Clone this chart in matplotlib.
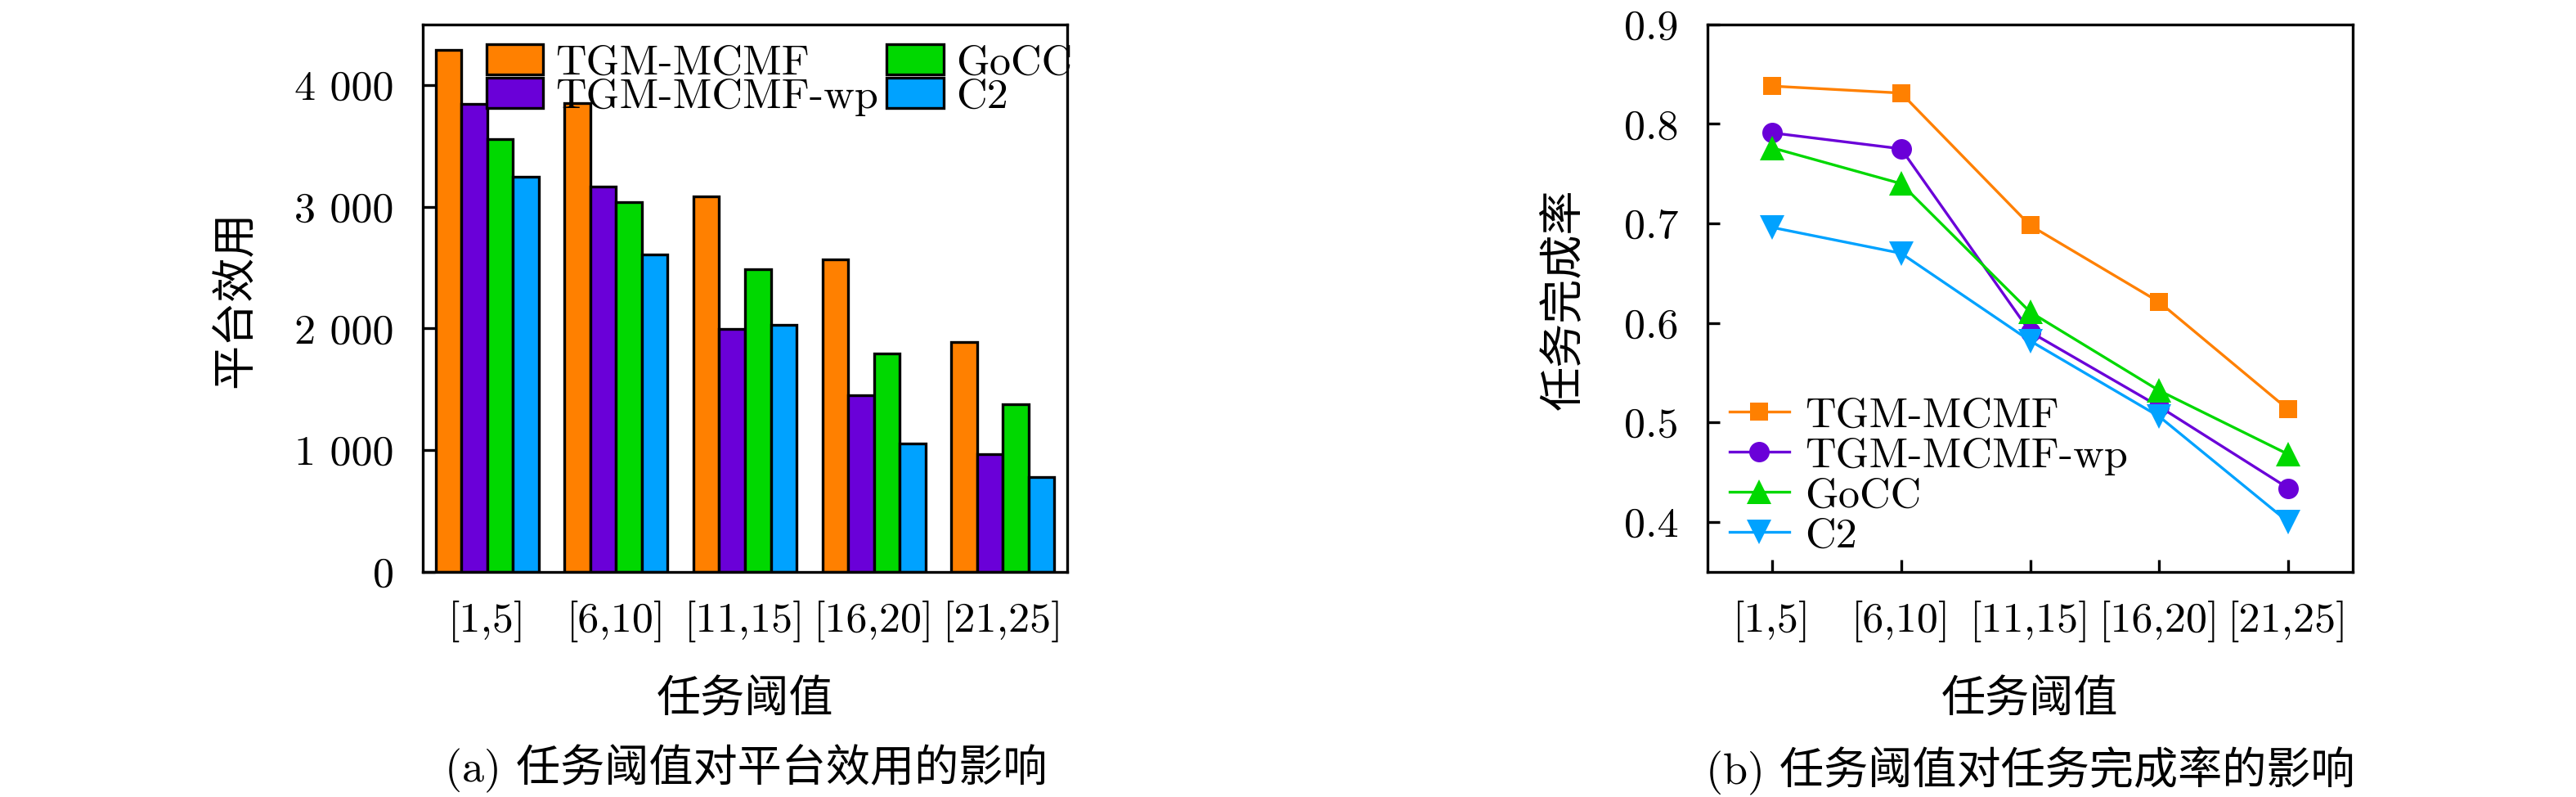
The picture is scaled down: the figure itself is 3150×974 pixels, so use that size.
import numpy as np
import matplotlib
matplotlib.use("Agg")
import matplotlib.pyplot as plt

plt.rc('font', family=['cmr10', 'Noto Sans CJK SC'], size=12.5)
plt.rc('axes', linewidth=0.8, unicode_minus=False)

# data
categories = ["[1,5]", "[6,10]", "[11,15]", "[16,20]", "[21,25]"]
methods = ["TGM-MCMF", "TGM-MCMF-wp", "GoCC", "C2"]
colors = ["#FF8000", "#6A00D8", "#00D800", "#00A2FF"]

utility_tgm = [4290, 3855, 3083, 2571, 1888]
utility_wp = [3843, 3165, 1995, 1453, 968]
utility_gocc = [3557, 3036, 2490, 1795, 1378]
utility_c2 = [3250, 2608, 2031, 1054, 776]

rate_tgm = [0.838, 0.831, 0.698, 0.621, 0.513]
rate_wp = [0.791, 0.775, 0.591, 0.516, 0.434]
rate_gocc = [0.776, 0.740, 0.611, 0.532, 0.468]
rate_c2 = [0.696, 0.670, 0.582, 0.506, 0.400]

utility_ticks = [0, 1000, 2000, 3000, 4000]
utility_tick_labels = ["0", "1 000", "2 000", "3 000", "4 000"]
rate_ticks = [0.4, 0.5, 0.6, 0.7, 0.8, 0.9]


def plot_utility(ax):
    x = np.arange(len(categories)) * 5
    series = [utility_tgm, utility_wp, utility_gocc, utility_c2]
    for k, (vals, name, c) in enumerate(zip(series, methods, colors)):
        ax.bar(x + k - 1.5, vals, width=1.0, color=c, edgecolor='black',
               linewidth=0.8, label=name)
    ax.set_xlim(-2.5, x[-1] + 2.5)
    ax.set_ylim(0, 4500)
    ax.set_xticks(x)
    ax.set_xticklabels(categories)
    ax.set_yticks(utility_ticks)
    ax.set_yticklabels(utility_tick_labels)
    ax.tick_params(axis='y', direction='in', length=3.6, width=0.8, pad=8.5,
                   left=True, right=False)
    ax.tick_params(axis='x', length=0, pad=8.5)
    ax.legend(loc='upper left', bbox_to_anchor=(0.092, 0.972), ncol=2,
              frameon=False, borderpad=0.1, borderaxespad=0,
              handlelength=1.33, handleheight=0.71, handletextpad=0.29,
              columnspacing=0.2, labelspacing=-0.1)


def plot_rate(ax):
    x = np.arange(len(categories))
    series = [rate_tgm, rate_wp, rate_gocc, rate_c2]
    markers = ['s', 'o', '^', 'v']
    sizes = [5.4, 6.0, 7.0, 7.0]
    for vals, name, c, m, ms in zip(series, methods, colors, markers, sizes):
        ax.plot(x, vals, color=c, marker=m, markersize=ms, linewidth=0.8,
                markeredgewidth=0, label=name)
    ax.set_xlim(-0.5, 4.5)
    ax.set_ylim(0.35, 0.9)
    ax.set_xticks(x)
    ax.set_xticklabels(categories)
    ax.set_yticks(rate_ticks)
    ax.set_yticklabels(["%.1f" % t for t in rate_ticks])
    ax.tick_params(axis='both', direction='in', length=3.5, width=0.8, pad=8.5,
                   top=False, right=False)
    ax.legend(loc='lower left', bbox_to_anchor=(0.034, 0.03), frameon=False,
              borderpad=0, borderaxespad=0, handlelength=1.4,
              handletextpad=0.38, labelspacing=0.05)


def main():
    fig = plt.figure(figsize=(10.5, 974 / 300), dpi=300)
    ax1 = fig.add_axes([517 / 3150, 1 - 698.7 / 974, 788 / 3150, 668.9 / 974])
    ax2 = fig.add_axes([2088 / 3150, 1 - 698.7 / 974, 789 / 3150, 668.9 / 974])

    plot_utility(ax1)
    plot_rate(ax2)

    fig.text(288 / 3150, 1 - 366 / 974, "平台效用", rotation=90,
             ha='center', va='center', fontsize=13)
    fig.text(1911 / 3150, 1 - 366 / 974, "任务完成率", rotation=90,
             ha='center', va='center', fontsize=13)
    fig.text(911 / 3150, 1 - 855 / 974, "任务阈值", ha='center', va='center', fontsize=13)
    fig.text(2482 / 3150, 1 - 855 / 974, "任务阈值", ha='center', va='center', fontsize=13)
    fig.text(912 / 3150, 1 - 939 / 974, "(a) 任务阈值对平台效用的影响",
             ha='center', va='center', fontsize=13)
    fig.text(2483 / 3150, 1 - 941 / 974, "(b) 任务阈值对任务完成率的影响",
             ha='center', va='center', fontsize=13)

    fig.savefig("out.png", dpi=300)


if __name__ == '__main__':
    main()
